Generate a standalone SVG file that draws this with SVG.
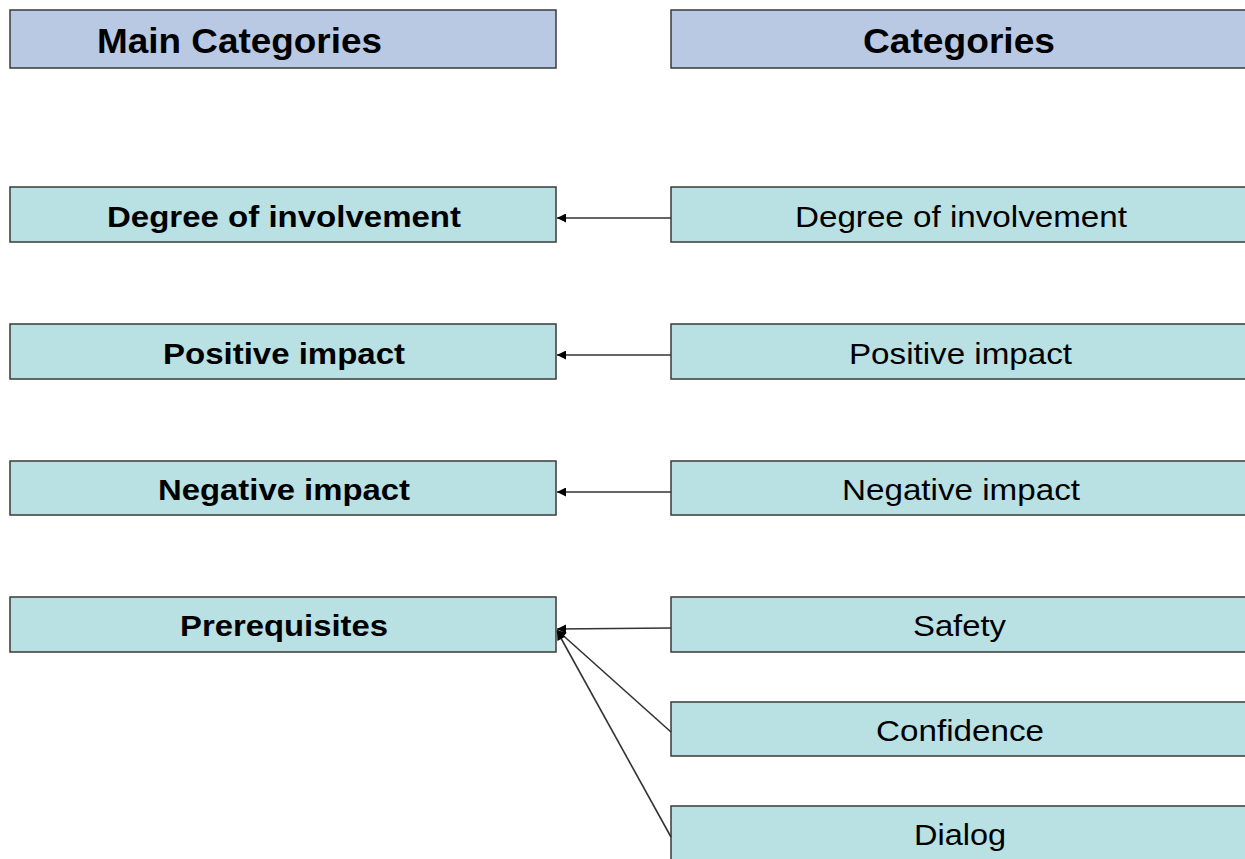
<svg xmlns="http://www.w3.org/2000/svg" width="1245" height="859" viewBox="0 0 1245 859">
<style>
.hdr{fill:#B9C9E3;stroke:#3a3a3a;stroke-width:1.5}
.box{fill:#B9E0E3;stroke:#3a3a3a;stroke-width:1.5}
.th{font-family:"Liberation Sans",Arial,sans-serif;font-weight:bold;font-size:35px;fill:#000}
.tb{font-family:"Liberation Sans",Arial,sans-serif;font-weight:bold;font-size:29px;fill:#000}
.tr{font-family:"Liberation Sans",Arial,sans-serif;font-size:30px;fill:#000}
.con{stroke:#333;stroke-width:1.6;fill:none}
</style>
<defs>
<marker id="ah" viewBox="0 0 10 10" refX="10" refY="5" markerWidth="10" markerHeight="9" orient="auto" markerUnits="userSpaceOnUse">
<path d="M0,0 L10,5 L0,10 z" fill="#000"/>
</marker>
</defs>
<rect width="1245" height="859" fill="#fff"/>
<g id="hdr-main"><rect class="hdr" x="10" y="10" width="546" height="58"/><text class="th" x="97" y="53" textLength="285" lengthAdjust="spacingAndGlyphs">Main Categories</text></g>
<g id="hdr-cat"><rect class="hdr" x="671" y="10" width="590" height="58"/><text class="th" x="863" y="53" textLength="192" lengthAdjust="spacingAndGlyphs">Categories</text></g>

<g id="m-degree"><rect class="box" x="10" y="187" width="546" height="55"/><text class="tb" x="107" y="227" textLength="354" lengthAdjust="spacingAndGlyphs">Degree of involvement</text></g>
<g id="m-positive"><rect class="box" x="10" y="324" width="546" height="55"/><text class="tb" x="163" y="364" textLength="242" lengthAdjust="spacingAndGlyphs">Positive impact</text></g>
<g id="m-negative"><rect class="box" x="10" y="461" width="546" height="54"/><text class="tb" x="158" y="500" textLength="252" lengthAdjust="spacingAndGlyphs">Negative impact</text></g>
<g id="m-prereq"><rect class="box" x="10" y="597" width="546" height="55"/><text class="tb" x="180" y="636" textLength="208" lengthAdjust="spacingAndGlyphs">Prerequisites</text></g>

<g id="c-degree"><rect class="box" x="671" y="187" width="590" height="55"/><text class="tr" x="795" y="227" textLength="332" lengthAdjust="spacingAndGlyphs">Degree of involvement</text></g>
<g id="c-positive"><rect class="box" x="671" y="324" width="590" height="55"/><text class="tr" x="849" y="364" textLength="223" lengthAdjust="spacingAndGlyphs">Positive impact</text></g>
<g id="c-negative"><rect class="box" x="671" y="461" width="590" height="54"/><text class="tr" x="842" y="500" textLength="238" lengthAdjust="spacingAndGlyphs">Negative impact</text></g>
<g id="c-safety"><rect class="box" x="671" y="597" width="590" height="55"/><text class="tr" x="913" y="636" textLength="93" lengthAdjust="spacingAndGlyphs">Safety</text></g>
<g id="c-confidence"><rect class="box" x="671" y="702" width="590" height="54"/><text class="tr" x="876" y="741" textLength="168" lengthAdjust="spacingAndGlyphs">Confidence</text></g>
<g id="c-dialog"><rect class="box" x="671" y="806" width="590" height="70"/><text class="tr" x="914" y="845" textLength="92" lengthAdjust="spacingAndGlyphs">Dialog</text></g>

<g id="connectors">
<line class="con" x1="671" y1="218" x2="557" y2="218" marker-end="url(#ah)"/>
<line class="con" x1="671" y1="355" x2="557" y2="355" marker-end="url(#ah)"/>
<line class="con" x1="671" y1="492" x2="557" y2="492" marker-end="url(#ah)"/>
<line class="con" x1="671" y1="628" x2="557" y2="629" marker-end="url(#ah)"/>
<line class="con" x1="671" y1="732" x2="557" y2="630" marker-end="url(#ah)"/>
<line class="con" x1="671" y1="837" x2="557" y2="631" marker-end="url(#ah)"/>
</g>
</svg>
